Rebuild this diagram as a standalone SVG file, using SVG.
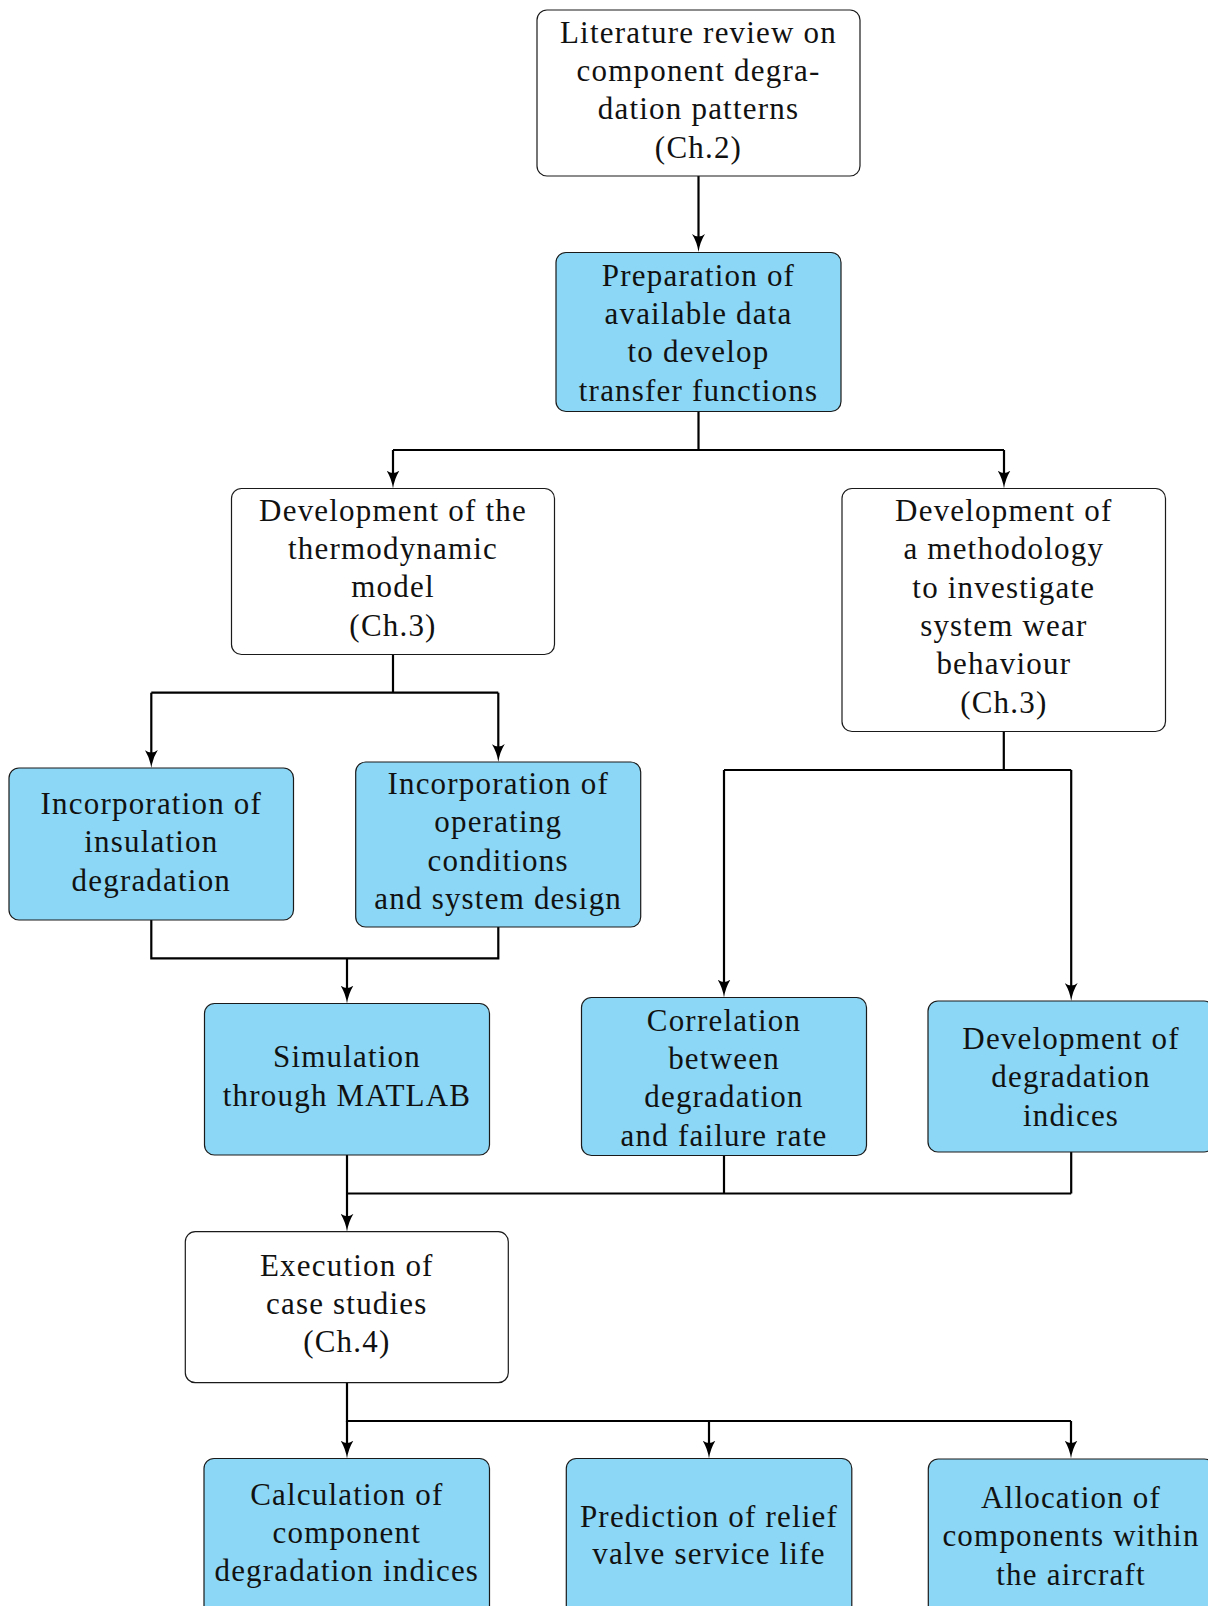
<svg xmlns="http://www.w3.org/2000/svg" width="1208" height="1606" viewBox="0 0 1208 1606">
<style>
.box{fill:#ffffff;stroke:#1a1a1a;stroke-width:1.2}
.blue{fill:#8cd7f5;stroke:#1a1a1a;stroke-width:1.2}
.t{font-family:"Liberation Serif","Times New Roman",serif;font-size:31px;letter-spacing:1.2px;fill:#111;text-anchor:middle}
.c{fill:none;stroke:#000;stroke-width:2.2}
.a{fill:none;stroke:#000;stroke-width:2.2;marker-end:url(#arr)}
</style>
<defs>
<marker id="arr" markerUnits="userSpaceOnUse" viewBox="0 0 18 13" refX="9" refY="6.5" markerWidth="18" markerHeight="13" orient="auto">
<path d="M0,0 Q8,5 18,6.5 Q8,8 0,13 Q5,6.5 0,0 Z" fill="#000"/>
</marker>
</defs>
<g id="connectors">
<path class="a" d="M698.5,176 V243"/>
<path class="c" d="M698.5,412 V450 M393,450 H1004"/>
<path class="a" d="M393,450 V479.5"/>
<path class="a" d="M1004,450 V479.5"/>
<path class="c" d="M393,654.5 V692.7 M151.3,692.7 H498.3"/>
<path class="a" d="M151.3,692.7 V759"/>
<path class="a" d="M498.3,692.7 V753"/>
<path class="c" d="M1003.8,731.5 V770 M724,770 H1071.2"/>
<path class="a" d="M724,770 V988.5"/>
<path class="a" d="M1071.2,770 V992"/>
<path class="c" d="M151.3,920 V958.3 H498.3 V927"/>
<path class="a" d="M347,958.3 V994.5"/>
<path class="a" d="M347,1155 V1222.7"/>
<path class="c" d="M347,1193.5 H1071.2 M724,1155.7 V1193.5 M1071.2,1152 V1193.5"/>
<path class="c" d="M347,1382.7 V1421 H1071"/>
<path class="a" d="M347,1421 V1449.5"/>
<path class="a" d="M709,1421 V1449.5"/>
<path class="a" d="M1071,1421 V1449.5"/>
</g>
<g id="n1">
<rect class="box" x="537" y="10" width="323" height="166" rx="10"/>
<text class="t" x="698.5" y="42.5">Literature review on</text>
<text class="t" x="698.5" y="80.9">component degra-</text>
<text class="t" x="698.5" y="119.3">dation patterns</text>
<text class="t" x="698.5" y="157.7">(Ch.2)</text>
</g>
<g id="n2">
<rect class="blue" x="556" y="252.5" width="285" height="159" rx="10"/>
<text class="t" x="698.5" y="286">Preparation of</text>
<text class="t" x="698.5" y="324.2">available data</text>
<text class="t" x="698.5" y="362.4">to develop</text>
<text class="t" x="698.5" y="400.6">transfer functions</text>
</g>
<g id="n3">
<rect class="box" x="231.5" y="488.5" width="323" height="166" rx="10"/>
<text class="t" x="393" y="520.5">Development of the</text>
<text class="t" x="393" y="558.8">thermodynamic</text>
<text class="t" x="393" y="597.2">model</text>
<text class="t" x="393" y="635.5">(Ch.3)</text>
</g>
<g id="n4">
<rect class="box" x="842" y="488.5" width="323.5" height="243" rx="10"/>
<text class="t" x="1003.8" y="521">Development of</text>
<text class="t" x="1003.8" y="559.3">a methodology</text>
<text class="t" x="1003.8" y="597.6">to investigate</text>
<text class="t" x="1003.8" y="635.9">system wear</text>
<text class="t" x="1003.8" y="674.2">behaviour</text>
<text class="t" x="1003.8" y="712.5">(Ch.3)</text>
</g>
<g id="n5">
<rect class="blue" x="9" y="768" width="284.5" height="152" rx="10"/>
<text class="t" x="151.3" y="813.8">Incorporation of</text>
<text class="t" x="151.3" y="852.2">insulation</text>
<text class="t" x="151.3" y="890.5">degradation</text>
</g>
<g id="n6">
<rect class="blue" x="355.7" y="762" width="285" height="165" rx="10"/>
<text class="t" x="498.2" y="793.8">Incorporation of</text>
<text class="t" x="498.2" y="832.2">operating</text>
<text class="t" x="498.2" y="870.5">conditions</text>
<text class="t" x="498.2" y="908.8">and system design</text>
</g>
<g id="n7">
<rect class="blue" x="581.5" y="997.5" width="285" height="158" rx="10"/>
<text class="t" x="724" y="1030.5">Correlation</text>
<text class="t" x="724" y="1068.8">between</text>
<text class="t" x="724" y="1107.2">degradation</text>
<text class="t" x="724" y="1145.5">and failure rate</text>
</g>
<g id="n8">
<rect class="blue" x="928" y="1001" width="286" height="151" rx="10"/>
<text class="t" x="1071" y="1048.8">Development of</text>
<text class="t" x="1071" y="1087.2">degradation</text>
<text class="t" x="1071" y="1125.5">indices</text>
</g>
<g id="n9">
<rect class="blue" x="204.5" y="1003.5" width="285" height="151.5" rx="10"/>
<text class="t" x="347" y="1067.2">Simulation</text>
<text class="t" x="347" y="1105.5">through MATLAB</text>
</g>
<g id="n10">
<rect class="box" x="185.3" y="1231.7" width="323" height="151" rx="10"/>
<text class="t" x="346.8" y="1275.5">Execution of</text>
<text class="t" x="346.8" y="1313.8">case studies</text>
<text class="t" x="346.8" y="1352.2">(Ch.4)</text>
</g>
<g id="n11">
<rect class="blue" x="204" y="1458.5" width="285.5" height="162" rx="10"/>
<text class="t" x="346.8" y="1504.5">Calculation of</text>
<text class="t" x="346.8" y="1543">component</text>
<text class="t" x="346.8" y="1581.3">degradation indices</text>
</g>
<g id="n12">
<rect class="blue" x="566.3" y="1458.5" width="285.5" height="162" rx="10"/>
<text class="t" x="709" y="1526.5">Prediction of relief</text>
<text class="t" x="709" y="1564">valve service life</text>
</g>
<g id="n13">
<rect class="blue" x="928.3" y="1459" width="286" height="162" rx="10"/>
<text class="t" x="1071" y="1508">Allocation of</text>
<text class="t" x="1071" y="1546.3">components within</text>
<text class="t" x="1071" y="1584.5">the aircraft</text>
</g>
</svg>
